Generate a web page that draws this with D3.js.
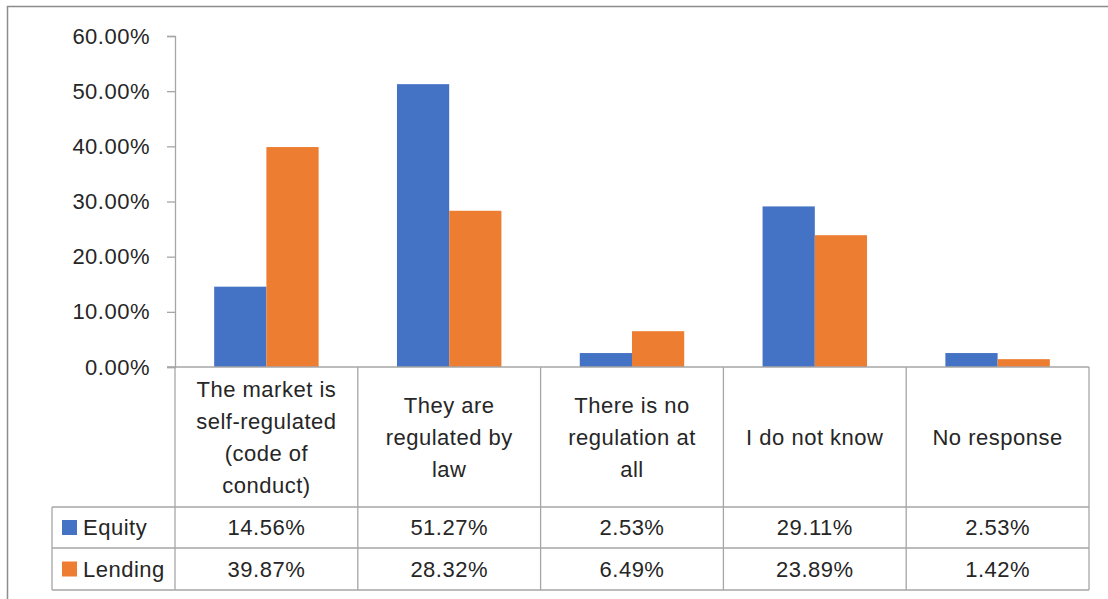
<!DOCTYPE html>
<html>
<head>
<meta charset="utf-8">
<script src="https://cdn.jsdelivr.net/npm/d3@7"></script>
<style>
  body { margin: 0; background: #fff; }
  text { font-family: "Liberation Sans", Arial, sans-serif; fill: #262626; letter-spacing: 0.5px; }
</style>
</head>
<body>
<div id="graf"></div>
<script>
const categories = [
  ["The market is", "self-regulated", "(code of", "conduct)"],
  ["They are", "regulated by", "law"],
  ["There is no", "regulation at", "all"],
  ["I do not know"],
  ["No response"]
]
const seriesNames = ["Equity", "Lending"]
const equity = [0.1456, 0.5127, 0.0253, 0.2911, 0.0253]
const lending = [0.3987, 0.2832, 0.0649, 0.2389, 0.0142]
const yTicks = [0, 0.1, 0.2, 0.3, 0.4, 0.5, 0.6]

const colores = { Equity: "#4472c4", Lending: "#ed7d31" }
const series = [equity, lending]

const anchoTotal = 1108
const altoTotal = 599
const plot = { left: 175, right: 1089, top: 36, bottom: 367 }
const tabla = { left: 52, row1: 507, row2: 548, row3: 590 }
const fs = "22px"

const svg = d3.select("#graf")
  .append("svg")
  .attr("width", anchoTotal)
  .attr("height", altoTotal)

// borde del area del grafico
svg.append("rect")
  .attr("x", 7.5)
  .attr("y", 6.5)
  .attr("width", 1110)
  .attr("height", 600)
  .attr("fill", "#fff")
  .attr("stroke", "#8c8c8c")
  .attr("stroke-width", 1.5)

const x = d3.scaleBand()
  .domain(d3.range(categories.length))
  .range([plot.left, plot.right])
  .paddingInner(0)
  .paddingOuter(0)

const xSub = d3.scaleBand()
  .domain(seriesNames)
  .range([0, x.bandwidth()])
  .paddingInner(0)
  .paddingOuter(0.75)

const y = d3.scaleLinear().domain([0, 0.6]).range([plot.bottom, plot.top])

const yAxis = d3.axisLeft(y)
  .tickValues(yTicks)
  .tickFormat(d3.format(".2%"))
  .tickSize(8)
  .tickPadding(17)

const gy = svg.append("g")
  .attr("transform", `translate(${plot.left}, 0)`)
  .call(yAxis)
gy.select(".domain").attr("stroke", "#a6a6a6").attr("stroke-width", 1.3)
gy.selectAll(".tick line").attr("stroke", "#a6a6a6").attr("stroke-width", 1.3)
gy.selectAll(".tick text")
  .style("font-size", fs)
  .attr("fill", "#262626")

// barras
seriesNames.forEach((nombre, s) => {
  svg.append("g")
    .selectAll("rect")
    .data(series[s])
    .join("rect")
    .attr("x", (d, i) => x(i) + xSub(nombre))
    .attr("y", (d) => y(d))
    .attr("width", xSub.bandwidth())
    .attr("height", (d) => y(0) - y(d))
    .attr("fill", colores[nombre])
})

// tabla de datos
const lineas = svg.append("g")
  .attr("stroke", "#a6a6a6")
  .attr("stroke-width", 1.3)
  .attr("fill", "none")

lineas.append("line")
  .attr("x1", plot.left - 8).attr("x2", plot.right)
  .attr("y1", plot.bottom).attr("y2", plot.bottom)
;[tabla.row1, tabla.row2, tabla.row3].forEach((yy) => {
  lineas.append("line")
    .attr("x1", tabla.left).attr("x2", plot.right)
    .attr("y1", yy).attr("y2", yy)
})
d3.range(categories.length + 1).forEach((i) => {
  const xx = i < categories.length ? x(i) : plot.right
  lineas.append("line")
    .attr("x1", xx).attr("x2", xx)
    .attr("y1", plot.bottom).attr("y2", tabla.row3)
})
lineas.append("line")
  .attr("x1", tabla.left).attr("x2", tabla.left)
  .attr("y1", tabla.row1).attr("y2", tabla.row3)

// etiquetas de categorias
const lineH = 32
categories.forEach((lines, i) => {
  const cy = (plot.bottom + tabla.row1) / 2
  const y0 = cy - ((lines.length - 1) * lineH) / 2
  svg.append("text")
    .attr("x", x(i) + x.bandwidth() / 2)
    .attr("text-anchor", "middle")
    .style("font-size", fs)
    .selectAll("tspan")
    .data(lines)
    .join("tspan")
    .attr("x", x(i) + x.bandwidth() / 2)
    .attr("y", (d, k) => y0 + k * lineH)
    .attr("dy", "0.35em")
    .text((d) => d)
})

// filas de valores
const filas = [tabla.row1, tabla.row2]
seriesNames.forEach((nombre, s) => {
  const cy = (filas[s] + (s === 0 ? tabla.row2 : tabla.row3)) / 2
  svg.append("rect")
    .attr("x", 62)
    .attr("y", cy - 7.5)
    .attr("width", 15)
    .attr("height", 15)
    .attr("fill", colores[nombre])
  svg.append("text")
    .attr("x", 83)
    .attr("y", cy)
    .attr("dy", "0.35em")
    .style("font-size", fs)
    .text(nombre)
  svg.append("g")
    .selectAll("text")
    .data(series[s])
    .join("text")
    .attr("x", (d, i) => x(i) + x.bandwidth() / 2)
    .attr("y", cy)
    .attr("dy", "0.35em")
    .attr("text-anchor", "middle")
    .style("font-size", fs)
    .text((d) => d3.format(".2%")(d))
})
</script>
</body>
</html>
